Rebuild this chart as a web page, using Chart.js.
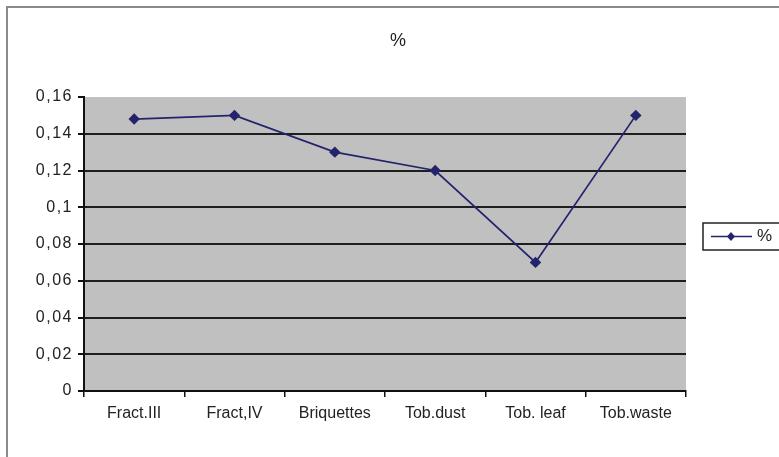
<!DOCTYPE html>
<html>
<head>
<meta charset="utf-8">
<script src="https://cdn.jsdelivr.net/npm/chart.js@4/dist/chart.umd.min.js"></script>
<style>
html,body{margin:0;padding:0;background:#fff;}
#wrap{position:relative;width:779px;height:457px;}
</style>
</head>
<body>
<div id="wrap"><canvas id="c" width="779" height="457"></canvas></div>
<script>
const categories = ['Fract.III', 'Fract,IV', 'Briquettes', 'Tob.dust', 'Tob. leaf', 'Tob.waste'];
const seriesName = '%';
const seriesValues = [0.148, 0.150, 0.130, 0.120, 0.070, 0.150];
const yTickLabels = ['0', '0,02', '0,04', '0,06', '0,08', '0,1', '0,12', '0,14', '0,16'];
const chartTitle = '%';

const lineColor = '#24246c';
const textColor = '#222222';
const FONT = "'Liberation Sans', Arial, sans-serif";

const decor = {
  id: 'decor',
  afterLayout(chart) {
    const y = chart.scales.y;
    if (y && !y._lsPatched) {
      const orig = y.drawLabels;
      y.drawLabels = function (area) {
        const ctx = this.ctx;
        const prev = ctx.letterSpacing;
        ctx.letterSpacing = '1.5px';
        orig.call(this, area);
        ctx.letterSpacing = prev || '0px';
      };
      y._lsPatched = true;
    }
  },
  beforeDraw(chart) {
    const {ctx, chartArea: a} = chart;
    ctx.save();
    ctx.fillStyle = '#ffffff';
    ctx.fillRect(0, 0, chart.width, chart.height);
    ctx.strokeStyle = '#8a8a8a';
    ctx.lineWidth = 2;
    ctx.strokeRect(7, 7, 820, 520);
    ctx.fillStyle = '#c0c0c0';
    ctx.fillRect(a.left, a.top, a.right - a.left, a.bottom - a.top);
    ctx.restore();
  },
  afterDraw(chart) {
    const {ctx} = chart;
    ctx.save();
    // title
    ctx.fillStyle = textColor;
    ctx.font = '18px ' + FONT;
    ctx.textAlign = 'center';
    ctx.textBaseline = 'middle';
    ctx.fillText(chartTitle, 398, 41);
    // legend
    const ds = chart.data.datasets[0];
    ctx.strokeStyle = '#222';
    ctx.lineWidth = 1.5;
    ctx.strokeRect(703, 223, 90, 27);
    ctx.strokeStyle = ds.borderColor;
    ctx.lineWidth = 1.5;
    ctx.beginPath();
    ctx.moveTo(711, 236.5);
    ctx.lineTo(752, 236.5);
    ctx.stroke();
    ctx.fillStyle = ds.pointBackgroundColor;
    ctx.beginPath();
    ctx.moveTo(731, 232);
    ctx.lineTo(735, 236.5);
    ctx.lineTo(731, 241);
    ctx.lineTo(727, 236.5);
    ctx.closePath();
    ctx.fill();
    ctx.fillStyle = textColor;
    ctx.font = '17px ' + FONT;
    ctx.textAlign = 'left';
    ctx.fillText(ds.label, 757, 236);
    ctx.restore();
  }
};

new Chart(document.getElementById('c'), {
  type: 'line',
  data: {
    labels: categories,
    datasets: [{
      label: seriesName,
      data: seriesValues,
      borderColor: lineColor,
      borderWidth: 1.75,
      pointStyle: 'rectRot',
      pointRadius: 4.5,
      pointBackgroundColor: lineColor,
      pointBorderColor: lineColor,
      tension: 0
    }]
  },
  options: {
    responsive: false,
    animation: false,
    devicePixelRatio: 1,
    layout: {padding: {left: 0, top: 97, right: 93, bottom: 0}},
    plugins: {legend: {display: false}, title: {display: false}, tooltip: {enabled: false}},
    scales: {
      x: {
        offset: true,
        grid: {display: true, drawOnChartArea: false, drawTicks: true, tickLength: 6, color: '#111', lineWidth: 1.5, offset: true},
        border: {display: true, color: '#111', width: 2},
        ticks: {color: textColor, font: {family: FONT, size: 16}, padding: 7, maxRotation: 0, autoSkip: false},
        afterFit(s) { s.height = 66; }
      },
      y: {
        min: 0, max: 0.16,
        grid: {
          color: (c) => (c.tick && c.tick.value >= 0.159) ? 'rgba(0,0,0,0)' : '#1e1e1e',
          lineWidth: 2, drawTicks: true, tickLength: 6, tickColor: '#111'
        },
        border: {display: true, color: '#111', width: 2},
        ticks: {
          stepSize: 0.02, color: textColor, font: {family: FONT, size: 16}, padding: 5,
          callback: (v, i) => yTickLabels[i]
        },
        afterFit(s) { s.width = 84; }
      }
    }
  },
  plugins: [decor]
});
</script>
</body>
</html>
